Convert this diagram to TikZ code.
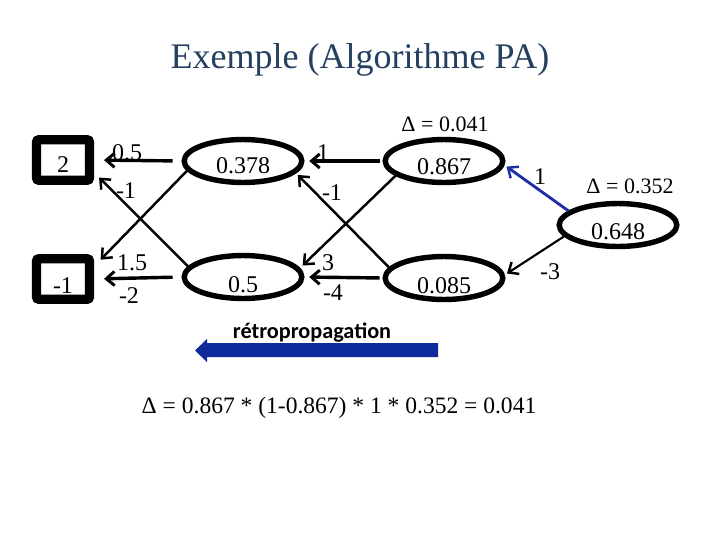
\documentclass[tikz,border=0pt]{standalone}
\usepackage{fontspec}
\setmainfont{Liberation Serif}
\newfontfamily\calib{Carlito}
\usetikzlibrary{shapes.geometric,arrows.meta}
\definecolor{titleblue}{HTML}{243F60}
\definecolor{bigblue}{HTML}{0E2A9B}
\definecolor{linkblue}{HTML}{1E2DA8}
\tikzset{
  neuron/.style={ellipse,draw=black,line width=4.6pt,minimum width=100pt,minimum height=36.5pt,inner sep=0pt},
  inbox/.style={rectangle,draw=black,line width=7.8pt,rounded corners=2pt,minimum width=45pt,minimum height=34.5pt,inner sep=0pt},
  val/.style={font=\fontsize{20.4}{22}\selectfont,inner sep=0pt},
  wlabel/.style={font=\fontsize{20.4}{22}\selectfont,inner sep=0pt},
  dlabel/.style={font=\fontsize{18.7}{21}\selectfont,inner sep=0pt},
  thick arrow/.style={line width=2.9pt,-{Straight Barb[length=7pt,width=12pt,line width=2.5pt]}},
  thin arrow/.style={line width=2.1pt,-{Straight Barb[length=7pt,width=12pt,line width=2.1pt]}}
}
\begin{document}
\begin{tikzpicture}[x=0.85pt,y=-0.85pt]
\useasboundingbox (0,0) rectangle (720,540);
\fill[white] (0,0) rectangle (720,540);
% title
\node[font=\fontsize{30.6}{34}\selectfont,text=titleblue,inner sep=0pt] (title) at (360,60) {Exemple (Algorithme PA)};
% inputs
\node[inbox] (in1) at (63,160) {};
\node[inbox] (in2) at (63,279) {};
\node[val] (in1t) at (63,165) {2};
\node[val] (in2t) at (63,286) {-1};
% hidden
\node[neuron] (h1) at (243,161) {};
\node[neuron] (h2) at (243,277) {};
\node[val] (h1t) at (243,166) {0.378};
\node[val] (h2t) at (243,285) {0.5};
% second layer
\node[neuron] (o1) at (444,161) {};
\node[neuron] (o2) at (444,278) {};
\node[val] (o1t) at (444,167) {0.867};
\node[val] (o2t) at (444,286) {0.085};
% output
\node[neuron] (out) at (618,225) {};
\node[val] (outt) at (618,232) {0.648};
% deltas
\node[dlabel] (d1) at (445,124) {Δ = 0.041};
\node[dlabel] (d2) at (630,186) {Δ = 0.352};
% first-layer connectors
\draw[thick arrow,shorten <=7.5pt,shorten >=8.5pt] (h1.west) -- (in1.east);
\draw[thin arrow,shorten >=8pt] (h1.190) -- (in2.22);
\draw[thin arrow,shorten >=6pt] (h2.169) -- (in1.338);
\draw[thick arrow,shorten <=7.5pt,shorten >=8.5pt] (h2.west) -- (in2.east);
% second-layer connectors
\draw[thick arrow,shorten <=2.5pt,shorten >=4pt] (o1.west) -- (h1.east);
\draw[thin arrow,shorten >=3pt] (o1.197) -- (h2.9);
\draw[thin arrow,shorten >=2pt] (o2.169) -- (h1.347);
\draw[thick arrow,shorten <=2.5pt,shorten >=4pt] (o2.west) -- (h2.east);
% output connectors
\draw[thin arrow,draw=linkblue,line width=2.4pt,shorten >=2pt] (out.164) -- (o1.356);
\draw[thin arrow,line width=1.8pt,shorten >=2pt] (out.192) -- (o2.3);
% weight labels
\node[wlabel] (w1) at (127,153) {0.5};
\node[wlabel] (w2) at (126,191) {-1};
\node[wlabel] (w3) at (132,263) {1.5};
\node[wlabel] (w4) at (129,296) {-2};
\node[wlabel] (w5) at (323,153) {1};
\node[wlabel] (w6) at (332,193) {-1};
\node[wlabel] (w7) at (328,263) {3};
\node[wlabel] (w8) at (333,293) {-4};
\node[wlabel] (w9) at (540,177) {1};
\node[wlabel] (w10) at (550,272) {-3};
% backpropagation arrow
\node[font=\calib\bfseries\fontsize{18.9}{21}\selectfont,inner sep=0pt] (bp) at (312,333) {rétropropagation};
\fill[bigblue] (438,343) -- (207,343) -- (207,339) -- (195,350.5) -- (207,362) -- (207,357) -- (438,357) -- cycle;
% formula
\node[font=\fontsize{20}{22}\selectfont,inner sep=0pt] (formula) at (339,408) {Δ = 0.867 * (1-0.867) * 1 * 0.352 = 0.041};
\end{tikzpicture}
\end{document}
